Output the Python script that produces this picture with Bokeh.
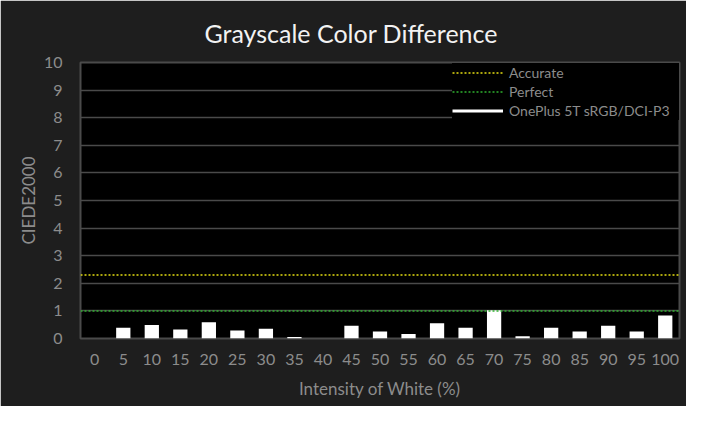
from bokeh.plotting import figure
from bokeh.models import Legend, LegendItem, Range1d, FixedTicker
from bokeh.embed import file_html
from bokeh.resources import INLINE

# ---- data ----
intensity = ["0", "5", "10", "15", "20", "25", "30", "35", "40", "45", "50",
             "55", "60", "65", "70", "75", "80", "85", "90", "95", "100"]
delta_e = [0.0, 0.39, 0.49, 0.33, 0.59, 0.29, 0.35, 0.05, 0.0, 0.46, 0.25,
           0.16, 0.55, 0.39, 1.02, 0.08, 0.39, 0.25, 0.46, 0.25, 0.83]
accurate_level = 2.3
perfect_level = 1.0
y_ticks = [0, 1, 2, 3, 4, 5, 6, 7, 8, 9, 10]
series_names = ["Accurate", "Perfect", "OnePlus 5T sRGB/DCI-P3"]

FONT = "Lato"
BG = "#1e1e1e"
GRID = "#4a4a4a"
TXT = "#8c8c8c"
YELLOW = "#e3dc12"
GREEN = "#2fb02f"

positions = list(range(len(intensity)))
x_range = Range1d(positions[0] - 0.5, positions[-1] + 0.5)

p = figure(width=686, height=406, x_range=x_range, y_range=Range1d(0, 10),
           output_backend="svg", toolbar_location=None,
           min_border_left=80, min_border_right=7, min_border_top=59,
           min_border_bottom=68)

p.background_fill_color = "black"
p.border_fill_color = BG
p.outline_line_color = GRID
p.outline_line_width = 2

p.title.text = "Grayscale Color Difference"
p.title.align = "left"
p.title.offset = 124
p.title.standoff = 30
p.title.text_color = "#f2f2f2"
p.title.text_font = FONT
p.title.text_font_size = "25px"
p.title.text_font_style = "normal"

# bars
p.vbar(x=positions, top=delta_e, width=0.5, color="white", line_color=None)

# reference lines across the full width
x_span = [x_range.start, x_range.end]
r_acc = p.line(x=x_span, y=[accurate_level, accurate_level], line_color=YELLOW,
               line_dash="2 2", line_width=1.5)
r_per = p.line(x=x_span, y=[perfect_level, perfect_level], line_color=GREEN,
               line_dash="2 2", line_width=1.5)
# legend proxy for the bars (shown as a white line in the legend)
r_dev = p.line(x=positions, y=delta_e, line_color="white", line_width=3,
               visible=False)

legend = Legend(items=[LegendItem(label=series_names[0], renderers=[r_acc]),
                       LegendItem(label=series_names[1], renderers=[r_per]),
                       LegendItem(label=series_names[2], renderers=[r_dev])],
                location=(372, 218), margin=0, padding=0, spacing=0,
                glyph_width=51, glyph_height=19, label_height=19,
                label_width=170, label_standoff=6,
                background_fill_color="black",
                background_fill_alpha=1, border_line_color=None,
                inactive_fill_alpha=0,
                label_text_color=TXT, label_text_font=FONT,
                label_text_font_size="14px")
p.add_layout(legend, "center")

# grid
p.xgrid.grid_line_color = None
p.ygrid.grid_line_color = GRID
p.ygrid.grid_line_width = 1.5
p.yaxis.ticker = FixedTicker(ticks=y_ticks)
p.xaxis.ticker = FixedTicker(ticks=positions)
p.xaxis.major_label_overrides = {pos: lab for pos, lab in zip(positions, intensity)}

# axes
for ax in (p.xaxis[0], p.yaxis[0]):
    ax.axis_line_color = None
    ax.major_tick_line_color = None
    ax.minor_tick_line_color = None
    ax.major_label_text_color = TXT
    ax.major_label_text_font = FONT
    ax.major_label_text_font_size = "16px"
    ax.axis_label_text_color = TXT
    ax.axis_label_text_font = FONT
    ax.axis_label_text_font_size = "17px"
    ax.axis_label_text_font_style = "normal"

p.xaxis.axis_label = "Intensity of White (%)"
p.yaxis.axis_label = "CIEDE2000"
p.xaxis.major_label_standoff = 9
p.yaxis.major_label_standoff = 12
p.xaxis.axis_label_standoff = 10
p.yaxis.axis_label_standoff = 2

open("out.html", "w").write(file_html(p, INLINE))
